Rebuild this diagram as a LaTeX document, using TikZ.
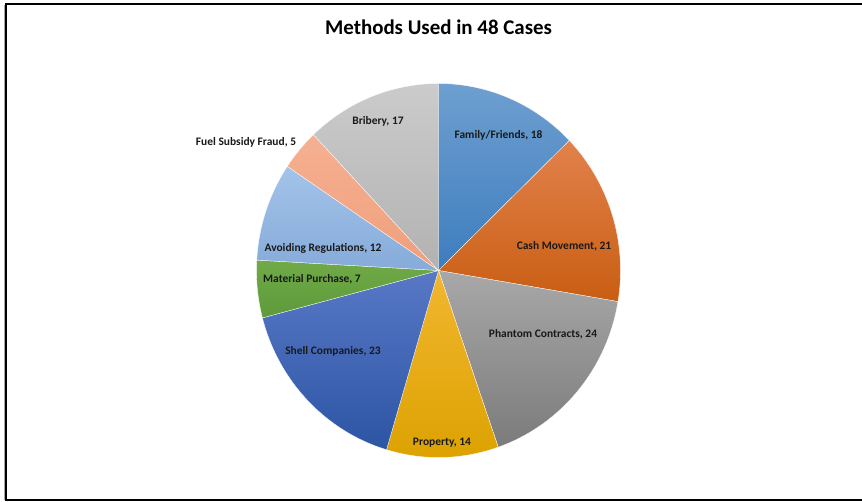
\documentclass[tikz,border=0pt]{standalone}
\usepackage{fontspec}
\setmainfont{Carlito}
\begin{document}
\begin{tikzpicture}[x=1bp,y=1bp,
  slice/.style={draw=white, line width=0.3bp},
  lbl/.style={font=\bfseries\fontsize{11.5}{13}\selectfont, text=black!90, inner sep=0pt},
  frameline/.style={line width=2.2bp, draw=black}]
\useasboundingbox (0,0) rectangle (862,502);
\fill[white] (0,0) rectangle (862,502);
% frame
\coordinate (tl) at (6,498.3);
\coordinate (tr) at (862,498.3);
\coordinate (bl) at (6,1.7);
\coordinate (br) at (862,1.7);
\draw[black!35, line width=1bp] (4.3,1.7) -- (4.3,497);
\draw[black!35, line width=1bp] (7,497) -- (862,497);
\draw[frameline] (tr) -- (tl) -- (bl) -- (br);
% title
\node[font=\bfseries\fontsize{21}{24}\selectfont, inner sep=0pt] (title) at (438.5,475) {Methods Used in 48 Cases};
% pie
\begin{scope}[shift={(438.5,231.5)}]
\def\rx{182bp}\def\ry{187bp}
\newcommand\pieslice[4]{%
  \shade[top color=#3, bottom color=#4] (0,0) -- (#1:\rx\space and \ry) arc[start angle=#1, end angle=#2, x radius=\rx, y radius=\ry] -- cycle;
  \draw[slice] (0,0) -- (#1:\rx\space and \ry) arc[start angle=#1, end angle=#2, x radius=\rx, y radius=\ry] -- cycle;}
\definecolor{ffT}{HTML}{6E9FD0}\definecolor{ffB}{HTML}{3D7DBE}
\definecolor{cmT}{HTML}{E2814C}\definecolor{cmB}{HTML}{C95E12}
\definecolor{pcT}{HTML}{A8A8A8}\definecolor{pcB}{HTML}{7B7B7B}
\definecolor{prT}{HTML}{F2B630}\definecolor{prB}{HTML}{DCA200}
\definecolor{scT}{HTML}{5878C6}\definecolor{scB}{HTML}{2C55A4}
\definecolor{mpT}{HTML}{70AA48}\definecolor{mpB}{HTML}{5E9A3A}
\definecolor{arT}{HTML}{A3C4E9}\definecolor{arB}{HTML}{86ABDA}
\definecolor{fsT}{HTML}{F6B092}\definecolor{fsB}{HTML}{EF9F7B}
\definecolor{brT}{HTML}{CBCBCB}\definecolor{brB}{HTML}{B2B2B2}
\pieslice{90}{44.043}{ffT}{ffB}
\pieslice{44.043}{-9.574}{cmT}{cmB}
\pieslice{-9.574}{-70.851}{pcT}{pcB}
\pieslice{-70.851}{-106.596}{prT}{prB}
\pieslice{-106.596}{-165.319}{scT}{scB}
\pieslice{-165.319}{-183.191}{mpT}{mpB}
\pieslice{-183.191}{-213.830}{arT}{arB}
\pieslice{-213.830}{-226.596}{fsT}{fsB}
\pieslice{-226.596}{-270}{brT}{brB}
\end{scope}
% labels
\node[lbl] (ff) at (498.5,367) {Family/Friends, 18};
\node[lbl] (cm) at (564,256) {Cash Movement, 21};
\node[lbl] (pc) at (543,168) {Phantom Contracts, 24};
\node[lbl] (pr) at (442,59) {Property, 14};
\node[lbl] (sc) at (333,151) {Shell Companies, 23};
\node[lbl] (mp) at (312,223) {Material Purchase, 7};
\node[lbl] (ar) at (323,254) {Avoiding Regulations, 12};
\node[lbl] (fs) at (246,360) {Fuel Subsidy Fraud, 5};
\node[lbl] (br) at (378,381) {Bribery, 17};
\end{tikzpicture}
\end{document}
